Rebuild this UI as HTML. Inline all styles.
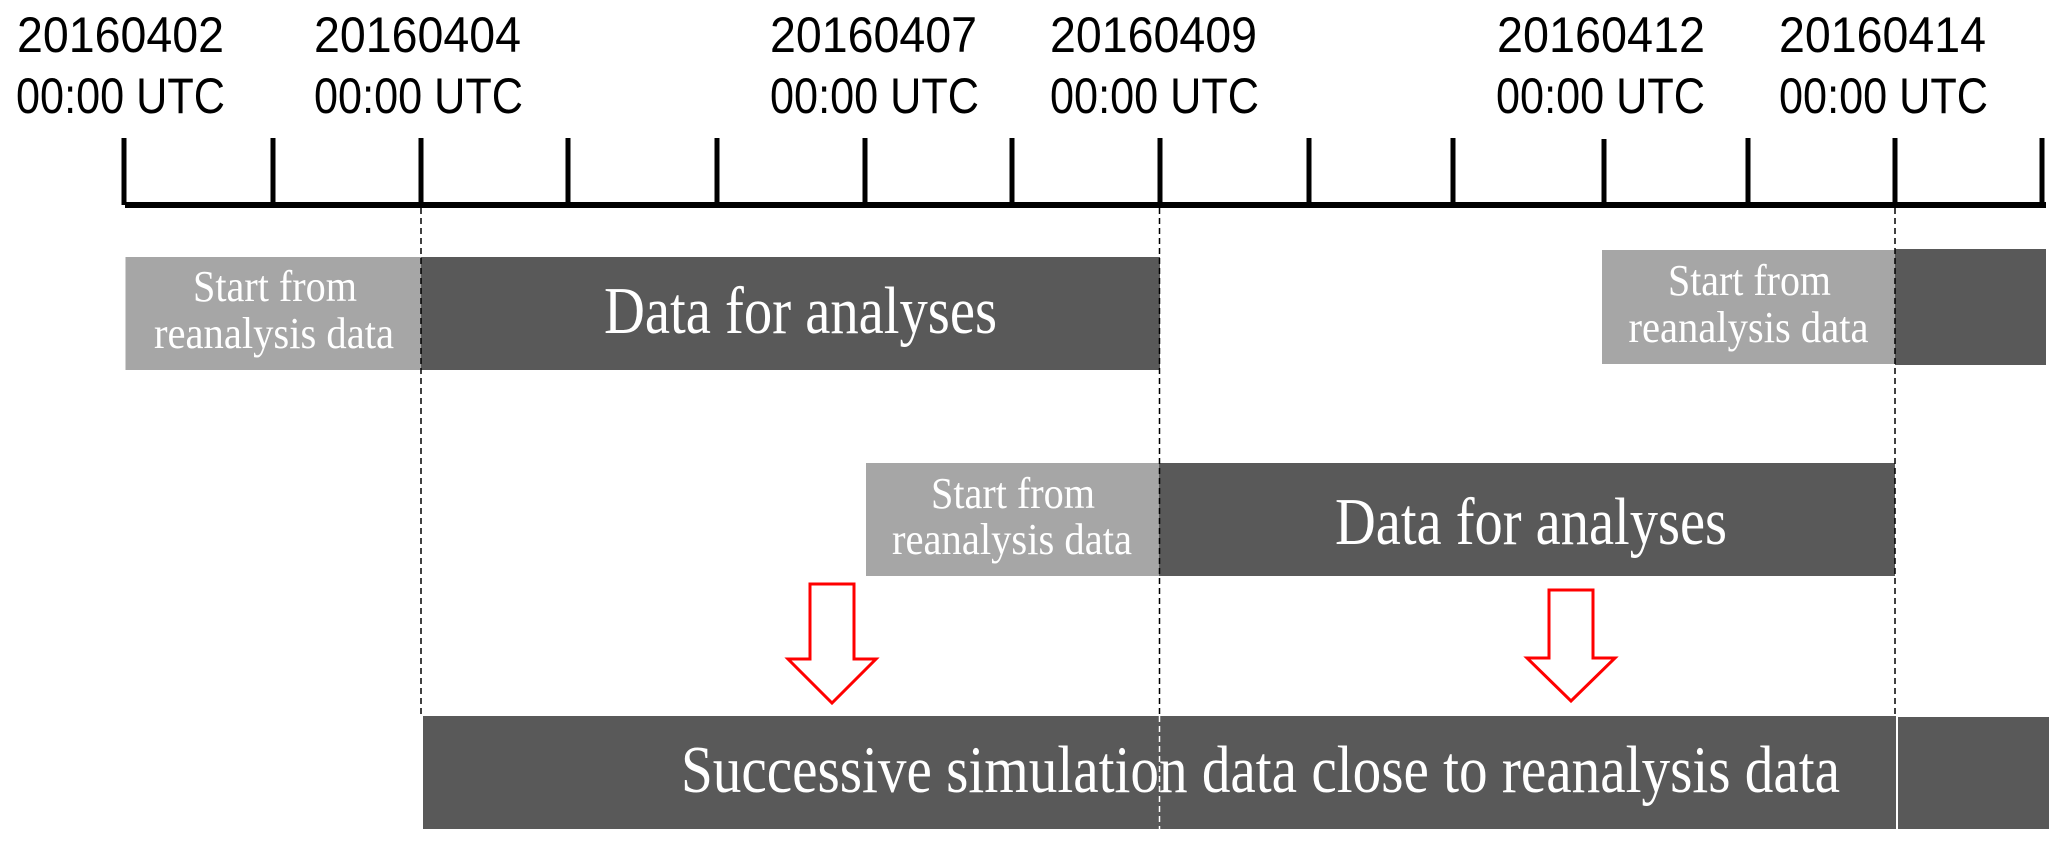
<!DOCTYPE html>
<html>
<head>
<meta charset="utf-8">
<style>
html,body{margin:0;padding:0;background:#fff;}
svg{display:block;}
.s{font-family:"Liberation Sans",sans-serif;font-size:50px;fill:#000;}
.t{font-family:"Liberation Serif",serif;fill:#fff;}
.a{font-size:44px;}
.b{font-size:67px;}
</style>
</head>
<body>
<svg width="2067" height="848" viewBox="0 0 2067 848" xmlns="http://www.w3.org/2000/svg">
<rect width="2067" height="848" fill="#fff"/>

<!-- top labels -->
<text class="s" x="17" y="52" textLength="207" lengthAdjust="spacingAndGlyphs">20160402</text>
<text class="s" x="16" y="113" textLength="209" lengthAdjust="spacingAndGlyphs">00:00 UTC</text>
<text class="s" x="314" y="52" textLength="207" lengthAdjust="spacingAndGlyphs">20160404</text>
<text class="s" x="314" y="113" textLength="209" lengthAdjust="spacingAndGlyphs">00:00 UTC</text>
<text class="s" x="770" y="52" textLength="207" lengthAdjust="spacingAndGlyphs">20160407</text>
<text class="s" x="770" y="113" textLength="209" lengthAdjust="spacingAndGlyphs">00:00 UTC</text>
<text class="s" x="1050" y="52" textLength="207" lengthAdjust="spacingAndGlyphs">20160409</text>
<text class="s" x="1050" y="113" textLength="209" lengthAdjust="spacingAndGlyphs">00:00 UTC</text>
<text class="s" x="1497" y="52" textLength="208" lengthAdjust="spacingAndGlyphs">20160412</text>
<text class="s" x="1496" y="113" textLength="209" lengthAdjust="spacingAndGlyphs">00:00 UTC</text>
<text class="s" x="1779" y="52" textLength="207" lengthAdjust="spacingAndGlyphs">20160414</text>
<text class="s" x="1779" y="113" textLength="209" lengthAdjust="spacingAndGlyphs">00:00 UTC</text>

<!-- axis -->
<g stroke="#000" stroke-width="5" fill="none">
<path d="M124 138V205M273 138V205M421 138V205M568 138V205M717 138V205M865 138V205M1012 138V205M1160 138V205M1309 138V205M1453 138V205M1604 139V205M1748 138V205M1895 138V205M2042 138V205"/>
</g>
<rect x="125" y="202" width="1921" height="6" fill="#000"/>

<!-- bars row 1 -->
<rect x="125.500" y="257" width="295.500" height="113" fill="#a6a6a6"/>
<rect x="421" y="257" width="739" height="113" fill="#595959"/>
<rect x="1602" y="250" width="293" height="114" fill="#a6a6a6"/>
<rect x="1895" y="249" width="151" height="116" fill="#595959"/>
<!-- bars row 2 -->
<rect x="866" y="463" width="293" height="113" fill="#a6a6a6"/>
<rect x="1159" y="463" width="736" height="113" fill="#595959"/>
<!-- bar row 3 -->
<rect x="423" y="716" width="1473" height="113" fill="#595959"/>
<rect x="1898" y="717" width="151" height="112" fill="#595959"/>

<!-- dashed guides -->
<g stroke="#000" stroke-width="1.500" stroke-dasharray="6 4" fill="none">
<path d="M421 208V716M1159.500 208V716M1895 208V716"/>
</g>
<g stroke="#fff" stroke-width="1.500" stroke-dasharray="6 4" fill="none">
<path d="M1159.500 716V829"/>
</g>

<!-- arrows -->
<g stroke="#f00" stroke-width="3" fill="#fff">
<path d="M810 584H854V659H876L832 703L788 659H810Z"/>
<path d="M1549 590H1593V658H1615L1571 701L1527 658H1549Z"/>
</g>

<!-- bar text -->
<text class="t a" x="193" y="301" textLength="164" lengthAdjust="spacingAndGlyphs">Start from</text>
<text class="t a" x="154" y="348" textLength="240" lengthAdjust="spacingAndGlyphs">reanalysis data</text>
<text class="t a" x="1668" y="295" textLength="163" lengthAdjust="spacingAndGlyphs">Start from</text>
<text class="t a" x="1628.500" y="342" textLength="240" lengthAdjust="spacingAndGlyphs">reanalysis data</text>
<text class="t a" x="931" y="508" textLength="164" lengthAdjust="spacingAndGlyphs">Start from</text>
<text class="t a" x="892" y="554" textLength="240" lengthAdjust="spacingAndGlyphs">reanalysis data</text>

<text class="t b" x="604" y="333" textLength="393" lengthAdjust="spacingAndGlyphs">Data for analyses</text>
<text class="t b" x="1335" y="544" textLength="392" lengthAdjust="spacingAndGlyphs">Data for analyses</text>
<text class="t b" x="681" y="792" textLength="1159" lengthAdjust="spacingAndGlyphs">Successive simulation data close to reanalysis data</text>
</svg>
</body>
</html>
